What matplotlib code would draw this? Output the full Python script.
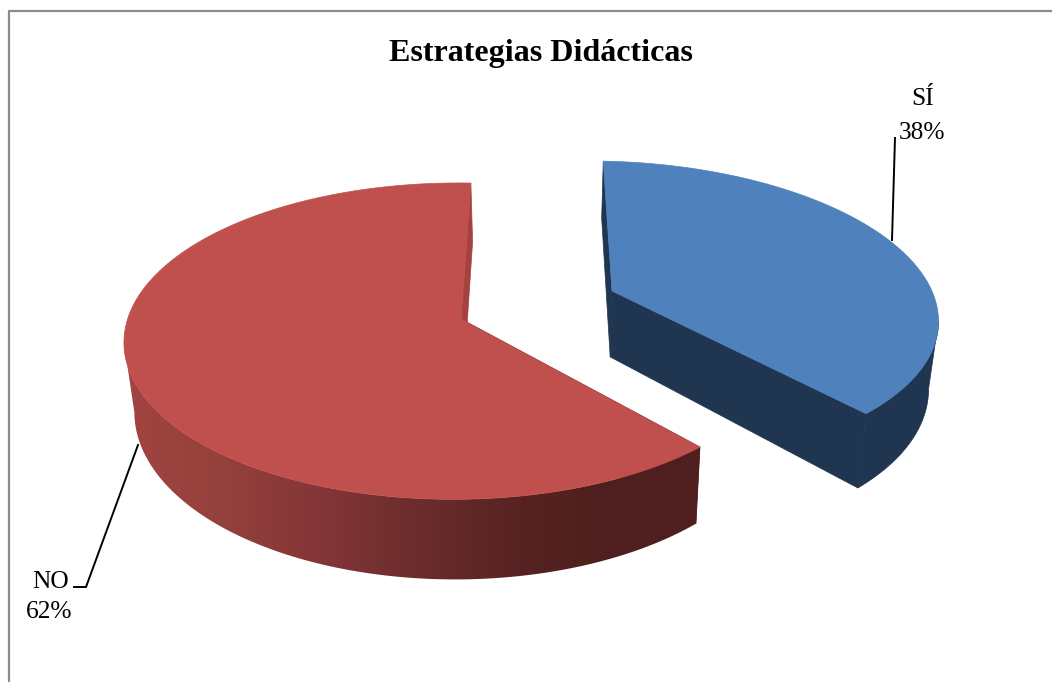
import numpy as np
import matplotlib
matplotlib.use('Agg')
import matplotlib.pyplot as plt
from matplotlib.colors import to_rgb
from matplotlib.patches import Polygon

# data
categories = ['SÍ', 'NO']
values = [38, 62]
percent_labels = ['38%', '62%']

# projection of the tilted disc onto the page (pixels)
START = 1.5
VX, VY = 480, 340
K, M = 0.14, 0.015
CENTERS = {'SÍ': (612, 291), 'NO': (461, 319)}
RADII = {'SÍ': (327, 155), 'NO': (328, 158)}

BLUE_TOP = '#4f81bd'
BLUE_DARK = '#1f3550'
RED_TOP = '#c0504d'
RED_SLIVER = '#a5423f'
RED_END = '#4e1f1e'
RED_RAMP_X = [135, 230, 310, 420, 520, 600, 700]
RED_RAMP_C = ['#a04441', '#93403b', '#863638', '#6b2c2c', '#572322', '#4e1f1e', '#4e1f1e']


def project(name, t):
    c = CENTERS[name]
    rx, ry = RADII[name]
    t = np.radians(t)
    x, y = np.sin(t), np.cos(t)
    w = 1 + K * y + M * x
    return VX + (c[0] + rx * x - VX) / w, VY + (c[1] - ry * y - VY) / w


def drop(px, py):
    # same point on the lower face of the disc
    px, py = np.asarray(px, float), np.asarray(py, float)
    return 540 + (px - 540) * 0.975, py + 66 + 0.068 * (py - 292)


def draw_slice(ax, name, t0, t1, top, first_color, last_color):
    c = CENTERS[name]
    ts = np.linspace(t0, t1, 400)
    rx, ry = project(name, ts)
    bx, by = drop(rx, ry)
    ax_, ay_ = drop(c[0], c[1])

    # the two cut walls
    ax.fill([rx[0], bx[0], ax_, c[0]], [ry[0], by[0], ay_, c[1]],
            color=first_color, lw=0.5, zorder=2)
    ax.fill([rx[-1], bx[-1], ax_, c[0]], [ry[-1], by[-1], ay_, c[1]],
            color=last_color, lw=0.5, zorder=2)

    # outer wall, only the part that faces the viewer
    if name == 'SÍ':
        keep = np.arange(np.argmax(rx), len(ts))
    else:
        keep = np.arange(0, np.argmin(rx) + 1)
    pts = np.c_[np.r_[rx[keep], bx[keep][::-1]], np.r_[ry[keep], by[keep][::-1]]]
    wall = Polygon(pts, closed=True, transform=ax.transData, facecolor=BLUE_DARK,
                   edgecolor=BLUE_DARK, lw=0.5, zorder=3)
    if name == 'SÍ':
        ax.add_patch(wall)
    else:
        xs = np.arange(1052)
        rgb = np.array([to_rgb(col) for col in RED_RAMP_C])
        grad = np.stack([np.interp(xs, RED_RAMP_X, rgb[:, i]) for i in range(3)], axis=1)[None, :, :]
        wall.set_visible(False)
        ax.add_patch(wall)
        im = ax.imshow(grad, extent=[0, 1052, 682, 0], aspect='auto', zorder=3)
        im.set_clip_path(wall)

    # top face
    ax.fill(np.r_[c[0], rx], np.r_[c[1], ry], color=top, lw=0.5, zorder=4)


fig = plt.figure(figsize=(10.52, 6.82), dpi=100)
ax = fig.add_axes([0, 0, 1, 1])

angles = np.cumsum([0] + values) / sum(values) * 360 + START
draw_slice(ax, 'NO', angles[1], angles[2], RED_TOP, RED_END, RED_SLIVER)
draw_slice(ax, 'SÍ', angles[0], angles[1], BLUE_TOP, BLUE_DARK, BLUE_DARK)

ax.set_xlim(0, 1052)
ax.set_ylim(682, 0)
ax.axis('off')

# chart frame
ax.plot([8.5, 8.5, 1052], [682, 10.5, 10.5], color='#8c8c8c', lw=1.6, zorder=1)

font = 'Liberation Serif'
ax.text(540.5, 53, 'Estrategias Didácticas', family=font, fontsize=23, weight='bold',
        ha='center', va='center', color='black')

ax.text(923, 99, categories[0], family=font, fontsize=18.3, ha='center', va='center')
ax.text(922, 133, percent_labels[0], family=font, fontsize=18.3, ha='center', va='center')
ax.text(51, 582, categories[1], family=font, fontsize=18.3, ha='center', va='center')
ax.text(49, 612, percent_labels[1], family=font, fontsize=18.3, ha='center', va='center')

ax.plot([895, 892], [138, 240], color='black', lw=1.4, zorder=5)
ax.plot([74, 86, 138], [587, 587, 445], color='black', lw=1.4, zorder=5)

plt.savefig('out.png', dpi=100)
